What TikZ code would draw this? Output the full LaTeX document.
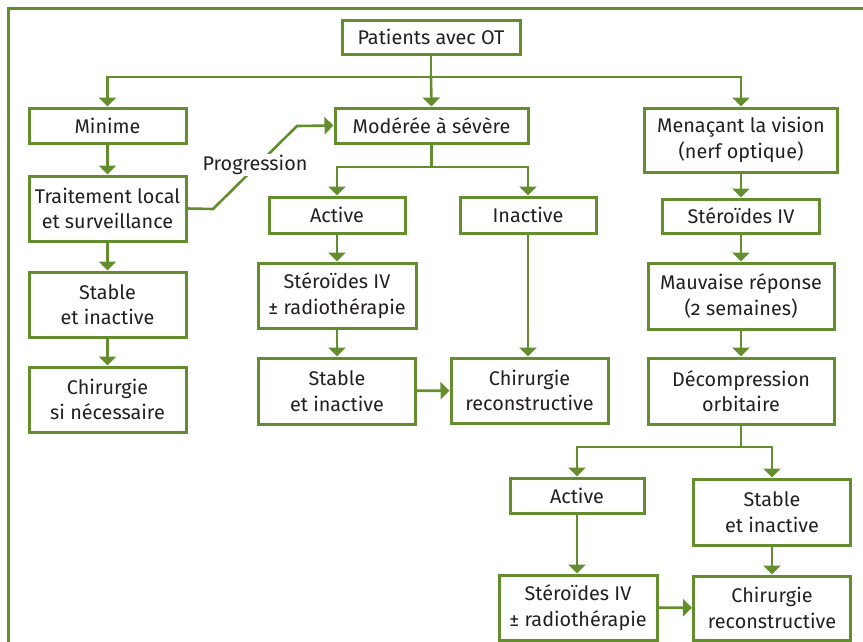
\documentclass[tikz,border=0pt]{standalone}
\usepackage{fontspec}
\setmainfont{Fira Sans}[Numbers=OldStyle]
\usetikzlibrary{arrows.meta}
\definecolor{gr}{RGB}{100,142,46}
\definecolor{txt}{RGB}{35,31,32}
\tikzset{
  bx/.style={draw=gr, line width=3pt, inner sep=0pt, align=center, text=txt,
    font=\fontsize{19.8}{25.5}\selectfont},
  arr/.style={draw=gr, line width=2.6pt, -{Triangle[width=17pt,length=9pt]}},
  ln/.style={draw=gr, line width=2.6pt},
}
\begin{document}
\begin{tikzpicture}[x=1pt,y=-1pt]
\useasboundingbox (0,0) rectangle (863,641);
\draw[draw=gr, line width=2.2pt] (8.5,645) -- (8.5,8.5) -- (866,8.5);

\node[bx, minimum width=178pt, minimum height=34pt] (pat) at (431,37) {Patients avec OT};
\node[bx, minimum width=157pt, minimum height=35pt] (min) at (107.5,125.5) {Minime};
\node[bx, minimum width=193pt, minimum height=35pt] (mod) at (431.5,125.5) {Modérée à sévère};
\node[bx, minimum width=193pt, minimum height=64pt] (men) at (741,140) {Menaçant la vision\\(nerf optique)};
\node[bx, minimum width=157pt, minimum height=65pt] (trait) at (107.5,208.5) {Traitement local\\et surveillance};
\node[bx, minimum width=157pt, minimum height=65pt] (stab1) at (107.5,304.5) {Stable\\et inactive};
\node[bx, minimum width=157pt, minimum height=65pt] (chir1) at (107.5,399.5) {Chirurgie\\si nécessaire};
\node[bx, minimum width=136pt, minimum height=36pt] (act1) at (337,215) {Active};
\node[bx, minimum width=136pt, minimum height=36pt] (inact) at (528,215) {Inactive};
\node[bx, minimum width=158pt, minimum height=65pt] (ster1) at (337,295.5) {Stéroïdes IV\\± radiothérapie};
\node[bx, minimum width=157pt, minimum height=66pt] (stab2) at (337,391) {Stable\\et inactive};
\node[bx, minimum width=157pt, minimum height=65pt] (chir2) at (529.5,390.5) {Chirurgie\\reconstructive};
\node[bx, minimum width=157pt, minimum height=34pt] (ster2) at (741,216) {Stéroïdes IV};
\node[bx, minimum width=186pt, minimum height=66pt] (mauv) at (741,296) {Mauvaise réponse\\(2 semaines)};
\node[bx, minimum width=186pt, minimum height=66pt] (deco) at (741,391) {Décompression\\orbitaire};
\node[bx, minimum width=134pt, minimum height=35pt] (act2) at (577,495.5) {Active};
\node[bx, minimum width=157pt, minimum height=66pt] (stab3) at (772,512) {Stable\\et inactive};
\node[bx, minimum width=158pt, minimum height=65pt] (ster3) at (578,607.5) {Stéroïdes IV\\± radiothérapie};
\node[bx, minimum width=157pt, minimum height=64pt] (chir3) at (772,608) {Chirurgie\\reconstructive};

% top split
\draw[ln] (pat.south) -- (pat.south |- 0,77) coordinate (j1);
\draw[arr] (j1) -| (min.north);
\draw[arr] (j1) -- (mod.north);
\draw[arr] (j1) -| (men.north);

% left column
\draw[arr] (min) -- (trait);
\draw[arr] (trait) -- (stab1);
\draw[arr] (stab1) -- (chir1);

% progression
\coordinate (p1) at (213,209);
\coordinate (p2) at (297,126);
\draw[arr] (trait.east) -- (p1) -- (p2) -- (mod.west);
\node[fill=white, inner sep=1.5pt, text=txt, font=\fontsize{19.8}{25.5}\selectfont] (prog) at (255,165) {Progression};

% middle
\draw[ln] (mod.south) -- (mod.south |- 0,167) coordinate (j2);
\draw[arr] (j2) -| (act1.north);
\draw[arr] (j2) -| (inact.north);
\draw[arr] (act1) -- (act1 |- ster1.north);
\draw[arr] (ster1) -- (stab2);
\draw[arr] (stab2) -- (chir2);
\draw[arr] (inact) -- (inact |- chir2.north);

% right
\draw[arr] (men) -- (ster2);
\draw[arr] (ster2) -- (mauv);
\draw[arr] (mauv) -- (deco);
\draw[ln] (deco.south) -- (deco.south |- 0,447) coordinate (j3);
\draw[arr] (j3) -| (act2.north);
\draw[arr] (j3) -| (stab3.north);
\draw[arr] (act2) -- (act2 |- ster3.north);
\draw[arr] (stab3) -- (chir3);
\draw[arr] (ster3) -- (chir3);
\end{tikzpicture}
\end{document}
